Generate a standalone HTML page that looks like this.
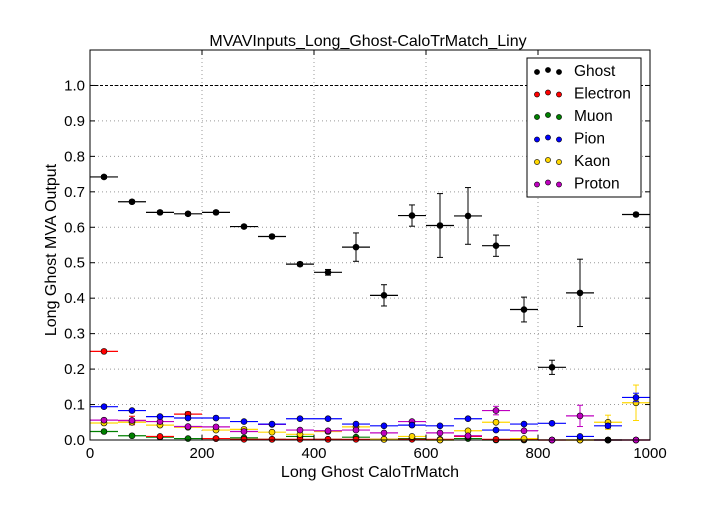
<!DOCTYPE html>
<html><head><meta charset="utf-8"><style>
body{margin:0;background:#fff;}
svg text{font-family:"Liberation Sans",sans-serif;}
</style></head><body>
<svg id="chart" width="720" height="504" xmlns="http://www.w3.org/2000/svg">
<rect width="720" height="504" fill="#fff"/>
<g id="grid"></g>
<g id="marks"></g>
<g id="axes"></g>
</svg>
<script>
const binEdges=[0,50,100,150,200,250,300,350,400,450,500,550,600,650,700,750,800,850,900,950,1000];
const ghost=[0.742,0.672,0.642,0.638,0.642,0.602,0.574,0.496,0.473,0.544,0.408,0.633,0.605,0.632,0.548,0.368,0.205,0.415,0,0.636];
const ghostErr=[0.004,0.004,0.004,0.004,0.004,0.004,0.004,0.005,0.008,0.04,0.03,0.03,0.09,0.08,0.03,0.035,0.02,0.095,0,0.004];
const electron=[0.25,0.055,0.01,0.073,0.004,0.002,0.002,0.002,0.002,0.002,0.002,0.002,0.002,0.01,0.002,0.002,0,0,0,0];
const electronErr=[0,0.012,0,0.006,0,0,0,0,0,0,0,0,0,0,0,0,0,0,0,0];
const muon=[0.024,0.012,0.008,0.004,0.004,0.006,0.002,0.01,0.002,0.008,0.002,0.004,0,0.004,0,0,0,0,0,0];
const pion=[0.094,0.083,0.066,0.062,0.062,0.052,0.045,0.06,0.06,0.045,0.04,0.042,0.04,0.06,0.028,0.045,0.047,0.01,0.04,0.12];
const pionErr=[0,0,0,0,0,0,0,0,0,0,0,0,0,0,0,0,0,0,0.006,0.012];
const kaon=[0.048,0.05,0.042,0.036,0.028,0.03,0.022,0.016,0.024,0.037,0.002,0.01,0,0.026,0.05,0.004,0,0,0.05,0.105];
const kaonErr=[0,0,0,0,0,0,0,0,0,0,0,0,0,0,0,0,0,0,0.02,0.05];
const proton=[0.056,0.055,0.052,0.038,0.037,0.024,0.044,0.028,0.026,0.028,0.02,0.052,0.02,0.012,0.083,0.026,0,0.068,0,0];
const protonErr=[0,0,0,0,0,0,0,0,0,0,0,0,0,0,0.012,0,0,0.03,0,0];
const xTicks=[0,200,400,600,800,1000];
const yTicks=[0.0,0.1,0.2,0.3,0.4,0.5,0.6,0.7,0.8,0.9,1.0];
const legendLabels=["Ghost","Electron","Muon","Pion","Kaon","Proton"];

const L=90,R=650,T=50,B=440;
const X=v=>L+(v/1000)*(R-L);
const Y=v=>B-(v/1.1)*(B-T);
const NS="http://www.w3.org/2000/svg";
function mk(tag,attrs,parent){const e=document.createElementNS(NS,tag);for(const k in attrs)e.setAttribute(k,attrs[k]);parent.appendChild(e);return e;}
const grid=document.getElementById('grid'),marks=document.getElementById('marks'),axes=document.getElementById('axes');

xTicks.forEach(t=>{if(t>0&&t<1000){const l=mk('line',{x1:X(t),x2:X(t),y1:T,y2:B,stroke:'#999','stroke-dasharray':'1,3'},grid);}});
yTicks.forEach(t=>{if(t>0){const l=mk('line',{x1:L,x2:R,y1:Y(t),y2:Y(t),stroke:'#999','stroke-dasharray':'1,3'},grid);}});
const ref=mk('line',{x1:L,x2:R,y1:Y(1),y2:Y(1),stroke:'#000','stroke-dasharray':'3,2'},grid);



function series(name,vals,errs,color,edge){
  const g=mk('g',{},marks);
  
  
  vals.forEach((v,i)=>{
    const x0=X(binEdges[i]),x1=X(binEdges[i+1]),xc=(x0+x1)/2,y=Y(v);
    mk('line',{x1:x0,x2:x1,y1:y,y2:y,stroke:color,'stroke-width':1.2},g);
    const e=errs?errs[i]:0;
    if(e>0){mk('line',{x1:xc,x2:xc,y1:Y(v-e),y2:Y(v+e),stroke:color},g);
      mk('line',{x1:xc-3,x2:xc+3,y1:Y(v-e),y2:Y(v-e),stroke:color},g);
      mk('line',{x1:xc-3,x2:xc+3,y1:Y(v+e),y2:Y(v+e),stroke:color},g);}
    const c=mk('circle',{cx:xc,cy:y,r:3,fill:color,stroke:edge,'stroke-width':0.6},g);
    
    
  });
}
series('muon',muon,null,'#008000','#000');
series('electron',electron,electronErr,'#ff0000','#000');
series('kaon',kaon,kaonErr,'#ffd700','#000');
series('proton',proton,protonErr,'#bf00bf','#000');
series('pion',pion,pionErr,'#0000ff','#000');
series('ghost',ghost,ghostErr,'#000','#000');

const frame=mk('rect',{x:L,y:T,width:R-L,height:B-T,fill:'none',stroke:'#000'},axes);


xTicks.forEach(t=>{
  mk('line',{x1:X(t),x2:X(t),y1:B,y2:B-5,stroke:'#000'},axes);
  mk('line',{x1:X(t),x2:X(t),y1:T,y2:T+5,stroke:'#000'},axes);
  const tx=mk('text',{x:X(t),y:B+18,'text-anchor':'middle','font-size':15},axes);tx.textContent=t;
  
  
});
yTicks.forEach(t=>{
  mk('line',{x1:L,x2:L+5,y1:Y(t),y2:Y(t),stroke:'#000'},axes);
  mk('line',{x1:R,x2:R-5,y1:Y(t),y2:Y(t),stroke:'#000'},axes);
  const tx=mk('text',{x:L-5,y:Y(t)+5,'text-anchor':'end','font-size':15},axes);tx.textContent=t.toFixed(1);
  
  
});
const title=mk('text',{x:368,y:46,'text-anchor':'middle','font-size':16},axes);title.textContent='MVAVInputs_Long_Ghost-CaloTrMatch_Liny';


const xt=mk('text',{x:370,y:477,'text-anchor':'middle','font-size':16},axes);xt.textContent='Long Ghost CaloTrMatch';


const yt=mk('text',{x:56,y:250,'text-anchor':'middle','font-size':16,transform:'rotate(-90 56 250)'},axes);yt.textContent='Long Ghost MVA Output';



const lg=mk('g',{},axes);


mk('rect',{x:527,y:58,width:114,height:139,fill:'#fff',stroke:'#000'},lg);
const lcols=['#000','#ff0000','#008000','#0000ff','#ffd700','#bf00bf'];
legendLabels.forEach((lab,i)=>{
  const y=71+i*22.5;
  const ent=mk('g',{},lg);
  
  
  [537,548,559].forEach((x,j)=>mk('circle',{cx:x,cy:y+(j==1?-1:1),r:2.6,fill:lcols[i],stroke:'#000','stroke-width':0.6},ent));
  const t=mk('text',{x:574,y:y+5,'font-size':15.5},ent);t.textContent=lab;
});
</script>
</body></html>
